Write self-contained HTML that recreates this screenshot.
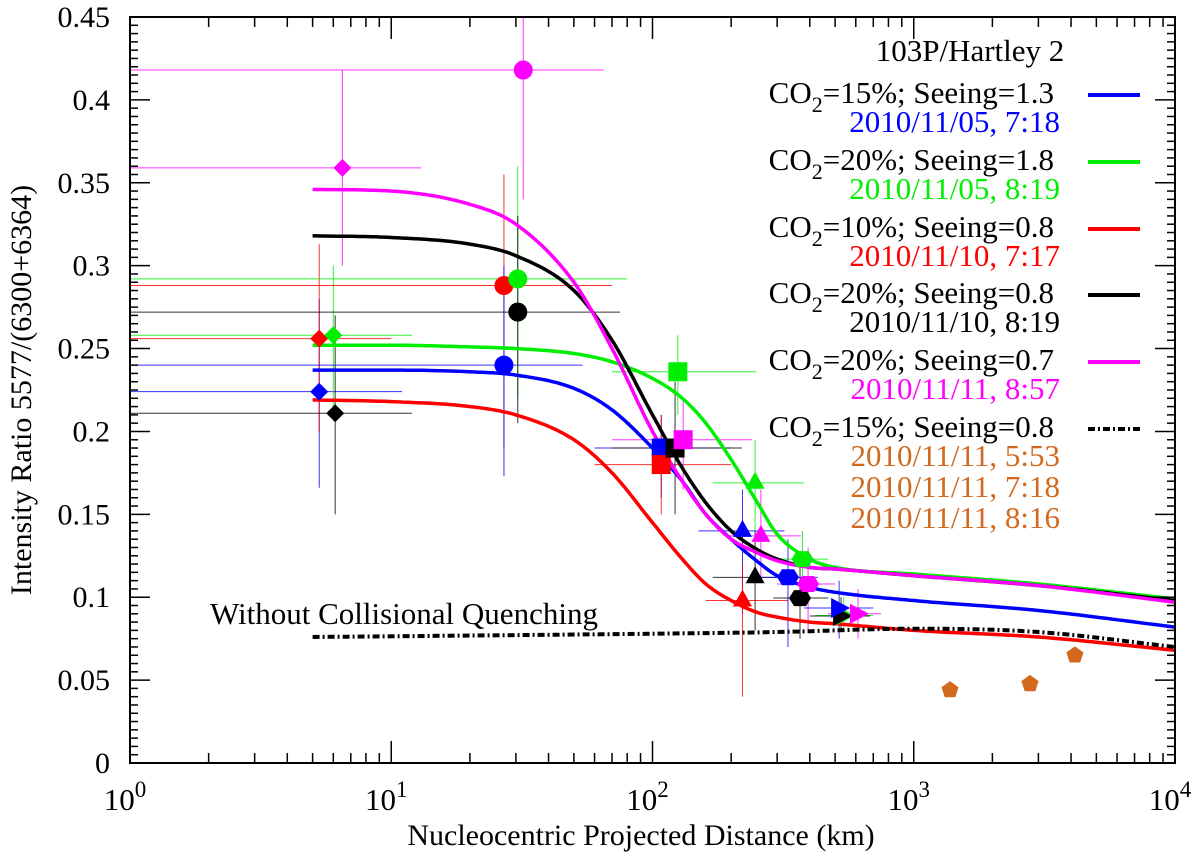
<!DOCTYPE html>
<html><head><meta charset="utf-8"><style>
html,body{margin:0;padding:0;background:#fff;}
svg{display:block;font-family:"Liberation Serif",serif;}
</style></head><body>
<svg id="chart" width="1200" height="858" viewBox="0 0 1200 858" xmlns="http://www.w3.org/2000/svg">
<g id="marks"></g>
<g id="axes"></g>
<g id="legend">
<text x="970" y="61" font-size="31" text-anchor="middle">103P/Hartley 2</text>
</g>
</svg>
<script>
// ---------- data ----------
const curveX = [5,10,20,30,50,70,100,130,160,200,250,300,400,500,1000,3000,10000];
const curveBlue = [0.237,0.237,0.236,0.234,0.226,0.213,0.19,0.17,0.15,0.135,0.122,0.113,0.106,0.103,0.098,0.092,0.082];
const curveGreen = [0.252,0.252,0.251,0.250,0.247,0.242,0.232,0.220,0.205,0.183,0.158,0.138,0.123,0.118,0.114,0.108,0.099];
const curveRed = [0.219,0.218,0.215,0.21,0.195,0.175,0.145,0.123,0.108,0.098,0.091,0.088,0.085,0.084,0.080,0.076,0.068];
const curveBlack = [0.318,0.317,0.313,0.306,0.285,0.255,0.21,0.178,0.157,0.14,0.129,0.123,0.118,0.117,0.113,0.107,0.098];
const curveMagenta = [0.346,0.345,0.337,0.325,0.29,0.25,0.2,0.17,0.15,0.135,0.127,0.122,0.118,0.117,0.113,0.107,0.097];
const quenchX = [5,100,300,1000,3000,10000];
const quenchY = [0.076,0.078,0.079,0.081,0.079,0.07];

const ptShape = ['diamond','diamond','diamond','diamond','diamond','circle','circle','circle','circle','circle','square','square','square','square','square','tri','tri','tri','tri','tri','hex','hex','hex','hex','rtri','rtri','rtri','rtri','pent','pent','pent'];
const ptColor = ['#0000ff','#ff0000','#00ee00','#000000','#ff00ff','#ff0000','#0000ff','#00ee00','#000000','#ff00ff','#0000ff','#ff0000','#000000','#00ee00','#ff00ff','#0000ff','#ff0000','#00ee00','#000000','#ff00ff','#00ee00','#0000ff','#000000','#ff00ff','#00ee00','#000000','#0000ff','#ff00ff','#d2691e','#d2691e','#d2691e'];
const ptX = [5.3,5.3,6,6.1,6.5,27,27,30.5,30.5,32,108,108,122,125,131,221,221,247,247,260,375,330,367,394,540,527,518,612,1377,2786,4140];
const ptY = [0.224,0.256,0.258,0.211,0.359,0.288,0.24,0.292,0.272,0.418,0.19,0.18,0.19,0.236,0.195,0.14,0.098,0.169,0.112,0.137,0.123,0.112,0.0995,0.108,0.089,0.0887,0.0935,0.09,0.044,0.0477,0.065];
const ptXlo = [1,1,1,1,1,1,1,1,1,1,60,60,70,70,70,150,160,170,170,190,300,250,290,300,420,400,380,470,null,null,null];
const ptXhi = [11,10,12,12,13,70,54,80,75,65,200,200,220,250,240,320,330,380,340,370,470,430,470,500,700,680,700,750,null,null,null];
const ptYlo = [0.166,0.2,0.21,0.15,0.30,0.19,0.173,0.22,0.205,0.34,0.16,0.15,0.15,0.21,0.165,0.09,0.04,0.14,0.08,0.11,0.1,0.07,0.075,0.08,0.08,0.08,0.075,0.075,null,null,null];
const ptYhi = [0.28,0.313,0.30,0.27,0.418,0.355,0.30,0.36,0.33,0.5,0.21,0.21,0.23,0.258,0.22,0.165,0.12,0.195,0.14,0.165,0.14,0.135,0.125,0.13,0.1,0.1,0.11,0.105,null,null,null];

const yTicks = [0,0.05,0.1,0.15,0.2,0.25,0.3,0.35,0.4,0.45];
const yTickLabels = ['0','0.05','0.1','0.15','0.2','0.25','0.3','0.35','0.4','0.45'];
const xDecades = [0,1,2,3,4];

// ---------- scales ----------
const L=130,R=1175,T=17,B=763;
const NS='http://www.w3.org/2000/svg';
function xs(v){return L+(Math.log10(v))*(R-L)/4;}
function ys(v){return B-v*(B-T)/0.45;}
function el(tag,attrs,parent){const e=document.createElementNS(NS,tag);for(const k in attrs)e.setAttribute(k,attrs[k]);parent.appendChild(e);return e;}
const marks=document.getElementById('marks');
const axes=document.getElementById('axes');
const clip=el('clipPath',{id:'pc'},el('defs',{},marks));
el('rect',{x:L,y:T,width:R-L,height:B-T},clip);
const pg=el('g',{'clip-path':'url(#pc)'},marks);

function monoPath(xv,yv){
  const x=xv.map(v=>Math.log10(v)),y=yv.slice(),n=x.length;
  const d=[],m=new Array(n);
  for(let i=0;i<n-1;i++)d.push((y[i+1]-y[i])/(x[i+1]-x[i]));
  m[0]=d[0];m[n-1]=d[n-2];
  for(let i=1;i<n-1;i++){m[i]=(d[i-1]*d[i]<=0)?0:(d[i-1]+d[i])/2;}
  for(let i=0;i<n-1;i++){
    if(d[i]===0){m[i]=0;m[i+1]=0;continue;}
    const a=m[i]/d[i],b=m[i+1]/d[i],s=a*a+b*b;
    if(s>9){const t=3/Math.sqrt(s);m[i]=t*a*d[i];m[i+1]=t*b*d[i];}
  }
  let p='';
  for(let i=0;i<n-1;i++){
    const h=x[i+1]-x[i];
    for(let k=0;k<=20;k++){
      if(i>0&&k===0)continue;
      const t=k/20,t2=t*t,t3=t2*t;
      const v=(2*t3-3*t2+1)*y[i]+(t3-2*t2+t)*h*m[i]+(-2*t3+3*t2)*y[i+1]+(t3-t2)*h*m[i+1];
      const px=L+(x[i]+t*h)*(R-L)/4;
      p+=(p?'L':'M')+px.toFixed(1)+','+ys(v).toFixed(1);
    }
  }
  return p;
}

for(let i=0;i<ptX.length;i++){
  if(ptXlo[i]===null) continue;
  const g=el('g',{},pg);
  
  
  el('line',{x1:xs(ptXlo[i]),x2:xs(ptXhi[i]),y1:ys(ptY[i]),y2:ys(ptY[i]),stroke:ptColor[i],'stroke-width':1,opacity:0.8},g);
  el('line',{x1:xs(ptX[i]),x2:xs(ptX[i]),y1:ys(ptYlo[i]),y2:ys(ptYhi[i]),stroke:ptColor[i],'stroke-width':1,opacity:0.8},g);
}

const curves=[['model-curve-blue',curveBlue,'#0000ff'],['model-curve-green',curveGreen,'#00ee00'],['model-curve-red',curveRed,'#ff0000'],['model-curve-black',curveBlack,'#000000'],['model-curve-magenta',curveMagenta,'#ff00ff']];
curves.forEach(c=>{
  const p=el('path',{d:monoPath(curveX,c[1]),fill:'none',stroke:c[2],'stroke-width':3.5,'stroke-linejoin':'round'},pg);
  
  
});
const q=el('path',{d:monoPath(quenchX,quenchY),fill:'none',stroke:'#000','stroke-width':4,'stroke-dasharray':'7,3,2,3'},pg);



function marker(shape,cx,cy,color,parent){
  let e;
  if(shape==='circle') e=el('circle',{cx:cx,cy:cy,r:9.5,fill:color},parent);
  else if(shape==='square') e=el('rect',{x:cx-9.5,y:cy-9.5,width:19,height:19,fill:color},parent);
  else {
    let pts;
    if(shape==='diamond') pts=[[0,-9],[9,0],[0,9],[-9,0]];
    else if(shape==='tri') pts=[[0,-11],[9.5,6],[-9.5,6]];
    else if(shape==='rtri') pts=[[-8,-10],[11,0],[-8,10]];
    else if(shape==='hex') pts=[[-11,0],[-6,-8],[6,-8],[11,0],[6,8],[-6,8]];
    else { pts=[];for(let k=0;k<5;k++){const a=-Math.PI/2+k*2*Math.PI/5;pts.push([9*Math.cos(a),9*Math.sin(a)]);} }
    e=el('polygon',{points:pts.map(p=>(cx+p[0]).toFixed(1)+','+(cy+p[1]).toFixed(1)).join(' '),fill:color},parent);
  }
  return e;
}
for(let i=0;i<ptX.length;i++){
  const m=marker(ptShape[i],xs(ptX[i]),ys(ptY[i]),ptColor[i],pg);
  
  
}

const fr=el('rect',{x:L,y:T,width:R-L,height:B-T,fill:'none',stroke:'#000','stroke-width':2},axes);


for(let d=0;d<4;d++){
  for(let m=2;m<=9;m++){
    const x=xs(m*Math.pow(10,d));
    el('line',{x1:x,x2:x,y1:B,y2:B-10,stroke:'#000','stroke-width':1.5},axes);
    el('line',{x1:x,x2:x,y1:T,y2:T+10,stroke:'#000','stroke-width':1.5},axes);
  }
}
xDecades.forEach(d=>{
  const x=xs(Math.pow(10,d));
  el('line',{x1:x,x2:x,y1:B,y2:B-22,stroke:'#000','stroke-width':1.5},axes);
  el('line',{x1:x,x2:x,y1:T,y2:T+22,stroke:'#000','stroke-width':1.5},axes);
  const t=el('text',{x:x-5,y:810,'font-size':31,'text-anchor':'middle'},axes);
  
  
  t.textContent='10';
  const s=el('tspan',{dy:-13,'font-size':23},t);
  s.textContent=String(d);
});
for(let k=1;k<90;k++){
  const y=ys(k*0.005);
  const len=(k%10===0)?20:8;
  el('line',{x1:L,x2:L+len,y1:y,y2:y,stroke:'#000','stroke-width':1.5},axes);
  el('line',{x1:R,x2:R-len,y1:y,y2:y,stroke:'#000','stroke-width':1.5},axes);
}
yTicks.forEach((v,i)=>{
  const t=el('text',{x:110,y:ys(v)+10,'font-size':30,'text-anchor':'end'},axes);
  
  
  t.textContent=yTickLabels[i];
});
const xt=el('text',{x:641,y:845,'font-size':30,'text-anchor':'middle'},axes);


xt.textContent='Nucleocentric Projected Distance (km)';
const yt=el('text',{x:0,y:0,'font-size':30,'text-anchor':'middle',transform:'translate(31,390) rotate(-90)'},axes);


yt.textContent='Intensity Ratio 5577/(6300+6364)';
const wq=el('text',{x:210,y:624,'font-size':31},axes);


wq.textContent='Without Collisional Quenching';

const lg=document.getElementById('legend');
const legCO2=['15','20','10','20','20','15'];
const legSee=['1.3','1.8','0.8','0.8','0.7','0.8'];
const legCol=['#0000ff','#00ee00','#ff0000','#000000','#ff00ff','#000000'];
const legDates=[['2010/11/05, 7:18'],['2010/11/05, 8:19'],['2010/11/10, 7:17'],['2010/11/10, 8:19'],['2010/11/11, 8:57'],['2010/11/11, 5:53','2010/11/11, 7:18','2010/11/11, 8:16']];
const legDateCol=['#0000ff','#00ee00','#ff0000','#000000','#ff00ff','#d2691e'];
const legY=[103,170,237,303,370,437];
legY.forEach((y,i)=>{
  const t=el('text',{x:1054,y:y,'font-size':31,'text-anchor':'end'},lg);
  
  
  t.appendChild(document.createTextNode('CO'));
  const s=el('tspan',{dy:9,'font-size':22},t);s.textContent='2';
  const s2=el('tspan',{dy:-9},t);s2.textContent='='+legCO2[i]+'%; Seeing='+legSee[i];
  const ln=el('line',{x1:1088,x2:1140,y1:y-8,y2:y-8,stroke:legCol[i],'stroke-width':4,'stroke-dasharray':i===5?'7,3,2,3':'none'},lg);
  
  
  legDates[i].forEach((dt,j)=>{
    const d=el('text',{x:1060,y:y+29+j*31,'font-size':31,'text-anchor':'end',fill:legDateCol[i]},lg);
    
    
    d.textContent=dt;
  });
});
</script>
</body></html>
